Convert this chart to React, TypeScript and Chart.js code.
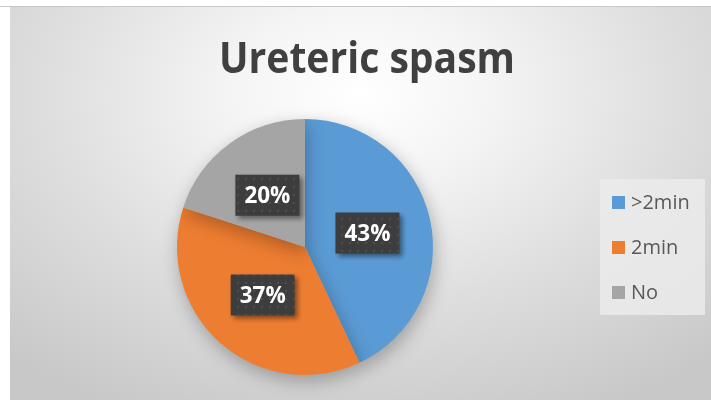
import React, { useEffect, useRef } from "react";
import { Chart, registerables } from "chart.js";

Chart.register(...registerables);

const categories = [">2min", "2min", "No"];
const values = [43, 37, 20];
const colors = ["#5B9BD5", "#ED7D31", "#A5A5A5"];
const titleText = "Ureteric spasm";

function makePattern(ctx: CanvasRenderingContext2D) {
  const c = document.createElement("canvas");
  c.width = 8;
  c.height = 8;
  const p = c.getContext("2d")!;
  p.fillStyle = "#3d3d3d";
  p.fillRect(0, 0, 8, 8);
  p.fillStyle = "#4d4d4d";
  p.beginPath();
  p.arc(4, 4, 1.3, 0, Math.PI * 2);
  p.fill();
  return ctx.createPattern(c, "repeat");
}

const shadowPlugin = {
  id: "pieShadow",
  beforeDatasetsDraw(chart: any) {
    const ctx = chart.ctx;
    ctx.save();
    ctx.shadowColor = "rgba(0,0,0,0.28)";
    ctx.shadowBlur = 18;
    ctx.shadowOffsetX = 2;
    ctx.shadowOffsetY = 6;
  },
  afterDatasetsDraw(chart: any) {
    chart.ctx.restore();
  },
};

const decorPlugin = {
  id: "decor",
  afterDraw(chart: any) {
    const ctx: CanvasRenderingContext2D = chart.ctx;
    // title
    ctx.save();
    ctx.font = "bold 43px 'Open Sans'";
    ctx.fillStyle = "#404040";
    ctx.textAlign = "center";
    ctx.textBaseline = "alphabetic";
    ctx.fillText(titleText, 357, 66, 296);
    ctx.restore();

    // data labels
    const meta = chart.getDatasetMeta(0);
    const pattern = makePattern(ctx);
    meta.data.forEach((arc: any, i: number) => {
      const pos = arc.tooltipPosition();
      const txt = values[i] + "%";
      ctx.save();
      ctx.font = "bold 24px 'Open Sans'";
      const w = 64;
      const h = 41;
      ctx.shadowColor = "rgba(0,0,0,0.45)";
      ctx.shadowBlur = 5;
      ctx.shadowOffsetX = 3;
      ctx.shadowOffsetY = 3;
      ctx.fillStyle = pattern || "#3d3d3d";
      ctx.fillRect(pos.x - w / 2, pos.y - h / 2, w, h);
      ctx.shadowColor = "transparent";
      ctx.fillStyle = "#ffffff";
      ctx.textAlign = "center";
      ctx.textBaseline = "middle";
      ctx.fillText(txt, pos.x, pos.y + 1, 46);
      ctx.restore();
    });

    // legend
    ctx.save();
    ctx.fillStyle = "rgba(235,235,235,0.85)";
    ctx.fillRect(590, 172, 105, 136);
    ctx.font = "20px 'Open Sans'";
    ctx.textBaseline = "middle";
    ctx.textAlign = "left";
    categories.forEach((c, i) => {
      const cy = 195.5 + i * 45;
      ctx.fillStyle = colors[i];
      ctx.fillRect(602, cy - 6.5, 13, 13);
      ctx.fillStyle = "#595959";
      ctx.fillText(c, 621, cy + 1);
    });
    ctx.restore();
  },
};

export default function App() {
  const ref = useRef<HTMLCanvasElement>(null);
  useEffect(() => {
    const chart = new Chart(ref.current!, {
      type: "pie",
      data: {
        labels: categories,
        datasets: [
          {
            data: values,
            backgroundColor: colors,
            borderWidth: 0,
          },
        ],
      },
      options: {
        animation: false,
        responsive: false,
        layout: { padding: { left: 167, right: 278, top: 112, bottom: 25 } },
        plugins: {
          legend: { display: false },
          title: { display: false },
          tooltip: { enabled: false },
        },
      },
      plugins: [shadowPlugin, decorPlugin],
    });
    return () => chart.destroy();
  }, []);
  return (
    <div>
      <div
        style={{
          position: "absolute",
          left: 0,
          top: 6,
          width: 711,
          height: 1,
          background: "#c8c8c8",
        }}
      />
      <div
        style={{
          position: "absolute",
          left: 10,
          top: 7,
          width: 701,
          height: 393,
          background:
            "radial-gradient(ellipse 75% 90% at 50% 22%, #ffffff 0%, #f4f4f4 25%, #dedede 60%, #c8c8c8 100%)",
        }}
      >
        <canvas ref={ref} width={701} height={393} style={{ display: "block" }} />
      </div>
    </div>
  );
}
